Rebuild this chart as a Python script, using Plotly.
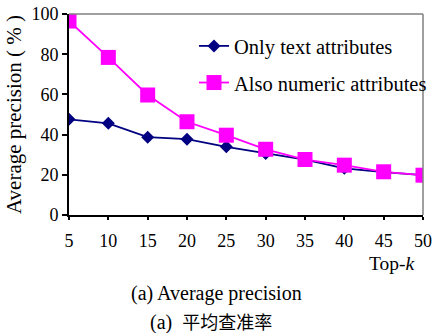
import plotly.graph_objects as go

top_k = [5, 10, 15, 20, 25, 30, 35, 40, 45, 50]
only_text = [47.6, 45.6, 38.7, 37.7, 33.9, 30.6, 27.6, 23.2, 21.3, 19.8]
also_numeric = [96.5, 78.4, 59.7, 46.4, 39.7, 32.7, 27.6, 24.8, 21.5, 19.8]
y_ticks = [0, 20, 40, 60, 80, 100]

SERIF = "Liberation Serif"
CJK = "Noto Sans CJK SC"

# plot area in pixels
L, R, T, B = 69, 11, 14, 118
W, H = 434, 333
PW = W - L - R


def px_x(x):
    """Convert a horizontal pixel position to a paper fraction."""
    return (x - L) / PW


fig = go.Figure()
fig.add_trace(go.Scatter(
    x=top_k, y=only_text, mode="lines+markers", name="Only text attributes",
    legendgroup="text",
    line=dict(color="#000080", width=1.8),
    marker=dict(symbol="diamond", size=10, color="#000080"),
))
fig.add_trace(go.Scatter(
    x=top_k, y=also_numeric, mode="lines+markers", name="Also numeric attributes",
    legendgroup="numeric",
    line=dict(color="#ff00ff", width=1.8),
    marker=dict(symbol="square", size=15, color="#ff00ff"),
))

axis_common = dict(
    showgrid=False, zeroline=False, showline=True, linecolor="black", linewidth=2,
    ticks="outside", tickcolor="black", tickwidth=1.5,
    tickfont=dict(family=SERIF, size=18, color="black"),
)

fig.update_layout(
    width=W, height=H,
    margin=dict(l=L, r=R, t=T, b=B, autoexpand=False),
    paper_bgcolor="white", plot_bgcolor="white",
    font=dict(family=SERIF, size=20, color="black"),
    showlegend=True,
    legend=dict(x=px_x(194), y=0.94, xanchor="left", yanchor="top",
                bgcolor="rgba(0,0,0,0)", font=dict(family=SERIF, size=20.5),
                traceorder="grouped", tracegroupgap=7, itemwidth=30),
    xaxis=dict(range=[5, 50], tickvals=top_k, ticklen=3, ticklabelstandoff=5,
               **axis_common),
    yaxis=dict(range=[0, 100], tickvals=y_ticks, ticklen=5, **axis_common,
               title=dict(text="Average precision ( % )",
                          font=dict(family=SERIF, size=21), standoff=4)),
    shapes=[
        dict(type="line", xref="paper", yref="paper", x0=0, x1=1, y0=1, y1=1,
             line=dict(color="#808080", width=1.5)),
        dict(type="line", xref="paper", yref="paper", x0=1, x1=1, y0=0, y1=1,
             line=dict(color="#808080", width=1.5)),
    ],
)

fig.add_annotation(text="Top-<i>k</i>", xref="paper", yref="paper",
                   x=px_x(417), y=0, yshift=-48, xanchor="right", yanchor="middle",
                   showarrow=False, font=dict(family=SERIF, size=19.5))
fig.add_annotation(text="(a) Average precision", xref="paper", yref="paper",
                   x=px_x(216), y=0, yshift=-78, xanchor="center", yanchor="middle",
                   showarrow=False, font=dict(family=SERIF, size=20))
fig.add_annotation(text=f"(a)  <span style='font-family:\"{CJK}\"; font-size:18px'>平均查准率</span>",
                   xref="paper", yref="paper",
                   x=px_x(211), y=0, yshift=-106, xanchor="center", yanchor="middle",
                   showarrow=False, font=dict(family=SERIF, size=20))

fig.write_html("out.html")
